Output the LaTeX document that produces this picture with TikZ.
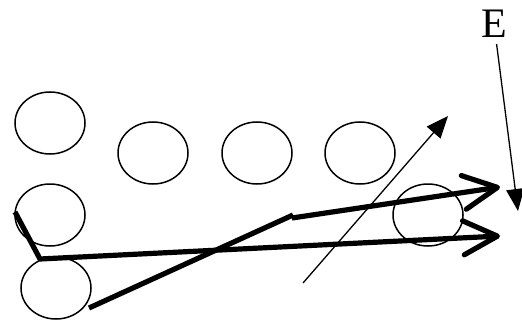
\documentclass[tikz,border=0pt]{standalone}
\usepackage{fontspec}
\setmainfont{Liberation Serif}
\usetikzlibrary{arrows.meta,shapes.geometric}

\begin{document}
\begin{tikzpicture}[
  x=0.5pt, y=-0.5pt,
  blob/.style={draw, ellipse, line width=0.75pt, minimum width=35pt, minimum height=31pt, inner sep=0pt},
  path/.style={line width=2.6pt, line join=round},
  ray/.style={path, -{Straight Barb[length=17pt, width=17pt, round]}},
  axis/.style={line width=0.65pt, -{Triangle[length=11pt, width=9pt]}},
]
\useasboundingbox (0,0) rectangle (522,320);
% -- circles
\node[blob] (c1) at (50,123) {};
\node[blob] (c2) at (153,153) {};
\node[blob] (c3) at (257,153) {};
\node[blob] (c4) at (360,153) {};
\node[blob] (c5) at (50,215) {};
\node[blob] (c6) at (56,288) {};
\node[blob] (c7) at (428,215) {};
% -- label
\node[font=\fontsize{21}{25}\selectfont, inner sep=1pt] (elbl) at (494,24) {E};
% -- end points
\coordinate (p1) at (15,212);
\coordinate (p2) at (40,259);
\coordinate (p3) at (500,236);
\coordinate (q1) at (89,308);
\coordinate (q2) at (293,215);
\coordinate (q3) at (292,218);
\coordinate (q4) at (500,187);
\coordinate (a1) at (303,283);
\coordinate (a2) at (448,116);
\coordinate (etip) at (518,211);
% -- paths
\draw[ray] (p1) -- (p2) -- (p3);
\draw[path] (q1) -- (q2);
\draw[ray] (q3) -- (q4);
\draw[axis] (a1) -- (a2);
\draw[axis, shorten <=2pt] (elbl) -- (etip);
\end{tikzpicture}
\end{document}
